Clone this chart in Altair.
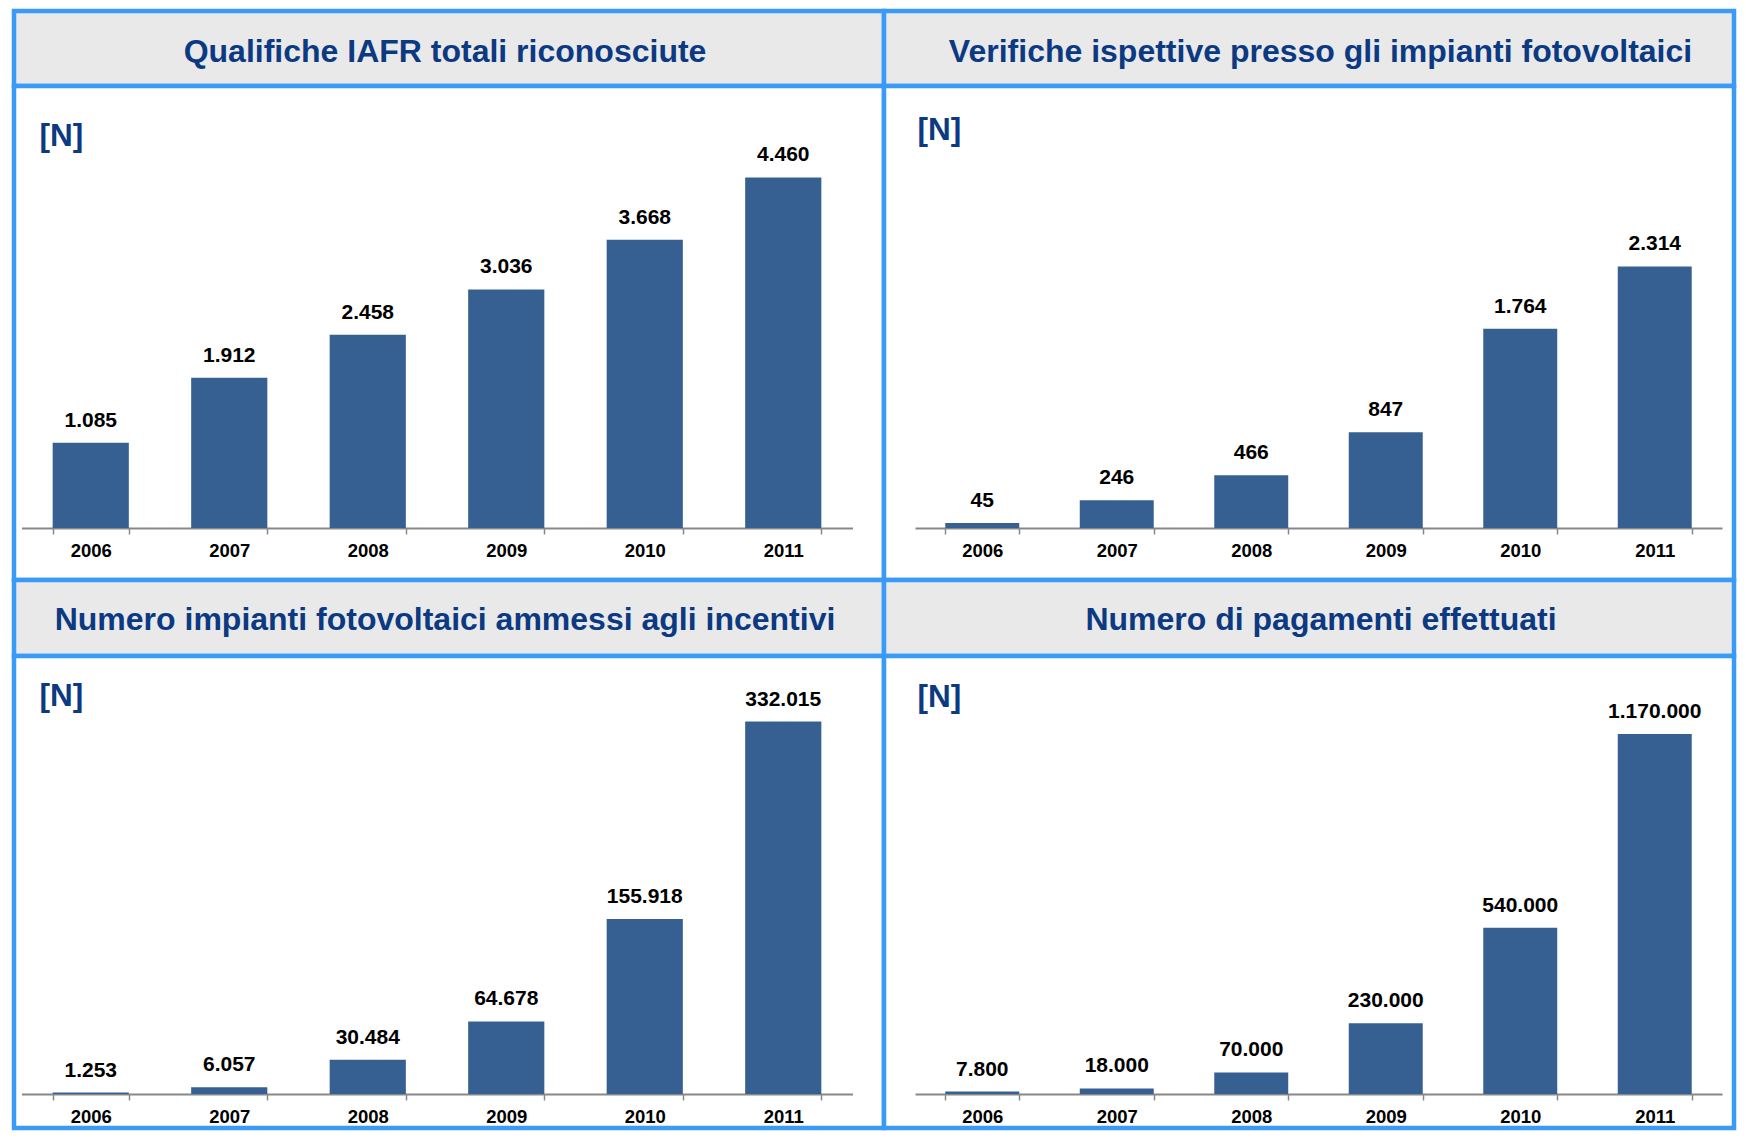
import altair as alt
import pandas as pd

years = ["2006", "2007", "2008", "2009", "2010", "2011"]
qualifiche = [1085, 1912, 2458, 3036, 3668, 4460]
verifiche = [45, 246, 466, 847, 1764, 2314]
impianti = [1253, 6057, 30484, 64678, 155918, 332015]
pagamenti = [7800, 18000, 70000, 230000, 540000, 1170000]

titles = [
    "Qualifiche IAFR totali riconosciute",
    "Verifiche ispettive presso gli impianti fotovoltaici",
    "Numero impianti fotovoltaici ammessi agli incentivi",
    "Numero di pagamenti effettuati",
]
unit = "[N]"

FONT = "Liberation Sans"
BLUE = "#3a9af7"
GRAY = "#e9e9e9"
NAVY = "#0b3a82"
BAR = "#376092"
AXISC = "#888888"
SW = 4.5

LW, RW = 870, 850
H1, B1, H2, B2 = 75, 494, 76, 472


def header(title, w, h, dx, dy):
    return (
        alt.Chart(pd.DataFrame({"t": [title]}))
        .mark_text(font=FONT, fontSize=32, fontWeight="bold", color=NAVY,
                   align="center", baseline="middle", dx=dx, dy=dy)
        .encode(text="t:N")
        .properties(width=w, height=h,
                    view=alt.ViewBackground(fill=GRAY, stroke=BLUE, strokeWidth=SW))
    )


def body(vals, w, h, xr, ymax, axis_y, tx, ty):
    df = pd.DataFrame({"year": years, "v": vals})
    base = alt.Chart(df).encode(
        x=alt.X("year:N", sort=years,
                scale=alt.Scale(range=xr, paddingInner=0.45, paddingOuter=0.225),
                axis=alt.Axis(title=None, orient="bottom", offset=axis_y - h,
                              labelAngle=0, domainColor=AXISC, domainWidth=2,
                              tickColor=AXISC, tickWidth=1.5, tickSize=6,
                              tickBand="extent", labelFont=FONT, labelFontSize=18.5,
                              labelFontWeight="bold", labelColor="black",
                              labelPadding=7, grid=False)),
        y=alt.Y("v:Q",
                scale=alt.Scale(domain=[0, ymax], range=[axis_y, 0], nice=False),
                axis=alt.Axis(title=unit, domain=False, ticks=False, labels=False,
                              grid=False, titleAngle=0, titleAlign="left",
                              titleBaseline="middle", titleX=tx, titleY=ty,
                              titleFont=FONT, titleFontSize=31.5, titleFontWeight="bold",
                              titleColor=NAVY, minExtent=0, maxExtent=0)),
    )
    bars = base.mark_bar(color=BAR)
    labels = base.mark_text(font=FONT, fontSize=21, fontWeight="bold", color="black",
                            baseline="middle", dy=-22).encode(
        text=alt.Text("v:Q", format=",d"))
    return alt.layer(bars, labels).properties(
        width=w, height=h,
        view=alt.ViewBackground(fill="white", stroke=BLUE, strokeWidth=SW))


h1 = header(titles[0], LW, H1, -4, 3)
h2 = header(titles[1], RW, H1, 11.5, 3)
b1 = body(qualifiche, LW, B1, [7.5, 838.5], 5624, 442, 25, 50)
b2 = body(verifiche, RW, B1, [31, 838], 3911, 442, 33, 44)
h3 = header(titles[2], LW, H2, -4, 2)
h4 = header(titles[3], RW, H2, 12, 2)
b3 = body(impianti, LW, B2, [7.5, 838.5], 390400, 438, 25, 40)
b4 = body(pagamenti, RW, B2, [31, 838], 1423500, 438, 33, 41)

chart = (
    alt.concat(h1, h2, b1, b2, h3, h4, b3, b4, columns=2, spacing=0, bounds="flush")
    .properties(padding={"left": 3, "top": 0, "right": 0, "bottom": 0})
    .configure(font=FONT,
               locale={"number": {"decimal": ",", "thousands": ".",
                                  "grouping": [3], "currency": ["€", ""]}})
)

chart.save("out.html", embed_options={"renderer": "svg", "actions": False})
